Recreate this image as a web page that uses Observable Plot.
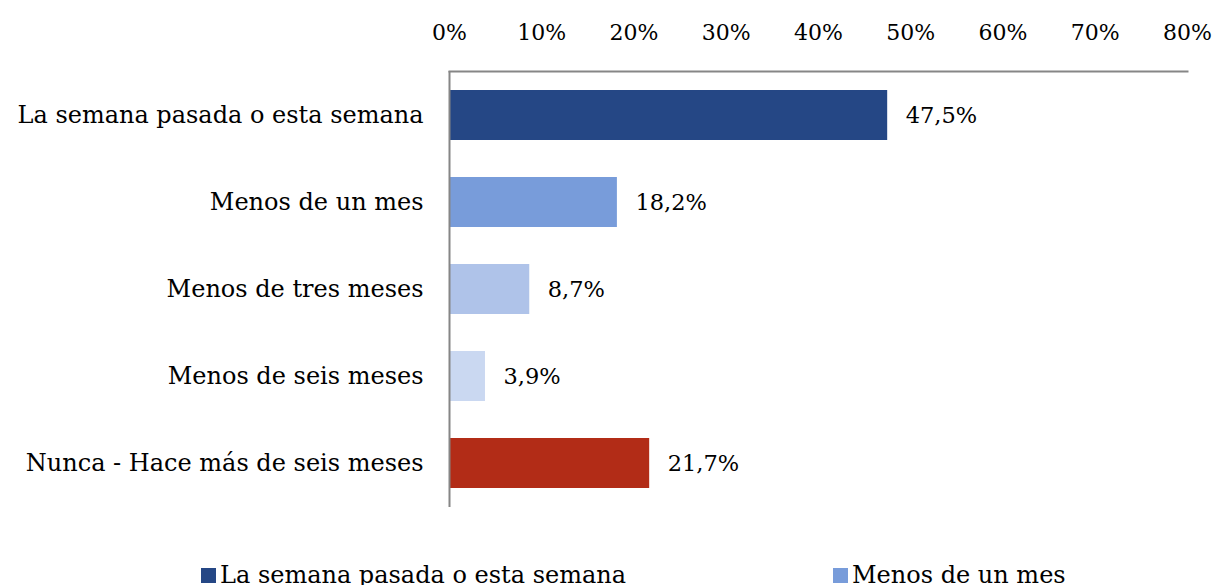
<!DOCTYPE html>
<html><head><meta charset="utf-8">
<script src="https://cdn.jsdelivr.net/npm/d3@7"></script>
<script src="https://cdn.jsdelivr.net/npm/@observablehq/plot@0.6"></script>
<style>
body{margin:0;background:#fff;font-family:"DejaVu Serif",serif;}
#legend{font-size:24px;color:#000;height:40px;}
.item{position:absolute;display:flex;align-items:center;line-height:28px;}
.sw{width:15px;height:15px;margin-right:4px;}
</style></head>
<body>
<div id="chart"></div>
<div id="legend"></div>
<script>
const categories = ["La semana pasada o esta semana","Menos de un mes","Menos de tres meses","Menos de seis meses","Nunca - Hace más de seis meses"];
const values = [47.5, 18.2, 8.7, 3.9, 21.7];
const colors = ["#254785","#789CDA","#AFC3E9","#CAD8F1","#B22C17"];
const tickValues = [0,10,20,30,40,50,60,70,80];

const data = categories.map((c,i)=>({cat:c, value:values[i], color:colors[i]}));
const fmt = v => v.toFixed(1).replace(".", ",") + "%";

const chart = Plot.plot({
  width: 1215, height: 530,
  marginTop: 71, marginBottom: 23, marginLeft: 449, marginRight: 28,
  style: {fontFamily: '"DejaVu Serif", serif', fontSize: "22px", color: "#000"},
  x: {domain: [0, 80], ticks: tickValues, tickFormat: d => d + "%", axis: "top", tickSize: 0, tickPadding: 32, label: null},
  y: {domain: categories, paddingInner: 0.43, paddingOuter: 0.215, axis: null},
  marks: [
    Plot.barX(data, {y: "cat", x: "value", fill: "color"}),
    Plot.axisY({tickSize: 0, tickPadding: 26, fontSize: 24, label: null}),
    Plot.text(data, {y: "cat", x: "value", text: d => fmt(d.value), textAnchor: "start", dx: 18, fontSize: 22.5, fill: "#000"}),
    Plot.frame({anchor: "top", stroke: "#868686", strokeWidth: 2}),
    Plot.ruleX([0], {stroke: "#868686", strokeWidth: 2})
  ]
});
document.getElementById("chart").appendChild(chart);

const legend = document.getElementById("legend");
const legendX = [201, 833];
[0,1].forEach(i => {
  const it = document.createElement("div");
  it.className = "item";
  it.style.left = legendX[i] + "px";
  it.style.top = "561px";
  const sw = document.createElement("div");
  sw.className = "sw"; sw.style.background = colors[i];
  const t = document.createElement("span");
  t.textContent = categories[i];
  it.appendChild(sw); it.appendChild(t);
  legend.appendChild(it);
});
</script>
</body></html>
